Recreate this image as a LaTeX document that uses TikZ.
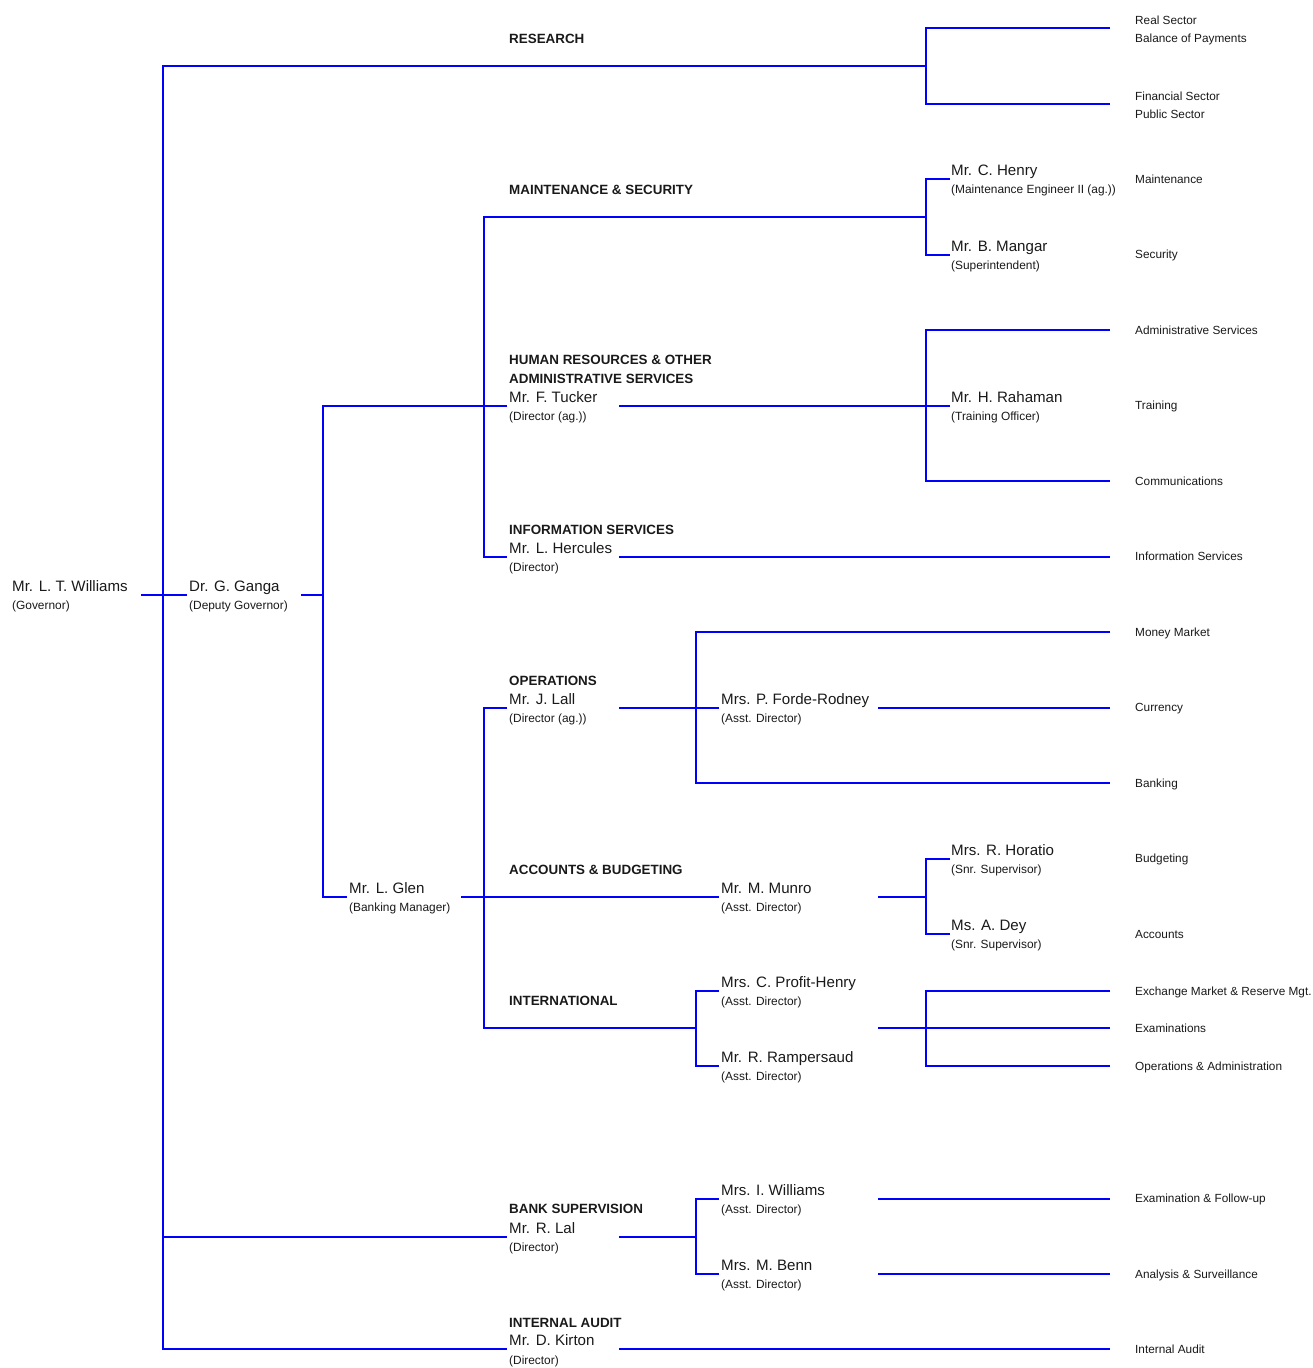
\documentclass[tikz,border=0pt]{standalone}
\usepackage{fontspec}
\setmainfont{Liberation Sans}
\definecolor{txt}{rgb}{0.1,0.1,0.1}
\definecolor{lineblue}{rgb}{0,0,1}
\begin{document}
\begin{tikzpicture}[x=1pt,y=-1pt,
 conn/.style={draw=lineblue,line width=2pt},
 nm/.style={anchor=base west,inner sep=0pt,text=txt,font=\fontsize{15.1}{18}\selectfont},
 rl/.style={anchor=base west,inner sep=0pt,text=txt,font=\fontsize{11.9}{14}\selectfont},
 hd/.style={anchor=base west,inner sep=0pt,text=txt,font=\bfseries\fontsize{13.4}{16}\selectfont},
 un/.style={anchor=base west,inner sep=0pt,text=txt,font=\fontsize{11.8}{14}\selectfont}]
\useasboundingbox (0,0) rectangle (1313,1368);

% ---------- people ----------
\node[nm] (williams) at (12,591) {Mr. L. T. Williams};
\node[rl] (williamsR) at (12,609) {(Governor)};
\node[nm] (ganga) at (189,591) {Dr. G. Ganga};
\node[rl] (gangaR) at (189,609) {(Deputy Governor)};
\node[nm] (glen) at (349,893) {Mr. L. Glen};
\node[rl] (glenR) at (349,911) {(Banking Manager)};

\node[hd] (research) at (509,43) {RESEARCH};
\node[hd] (maint) at (509,194) {MAINTENANCE \& SECURITY};
\node[hd] (hr1) at (509,364) {HUMAN RESOURCES \& OTHER};
\node[hd] (hr2) at (509,383) {ADMINISTRATIVE SERVICES};
\node[nm] (tucker) at (509,402.5) {Mr. F. Tucker};
\node[rl] (tuckerR) at (509,420.5) {(Director (ag.))};
\node[hd] (info) at (509,534) {INFORMATION SERVICES};
\node[nm] (hercules) at (509,553.5) {Mr. L. Hercules};
\node[rl] (herculesR) at (509,571.5) {(Director)};
\node[hd] (ops) at (509,685) {OPERATIONS};
\node[nm] (lall) at (509,704.5) {Mr. J. Lall};
\node[rl] (lallR) at (509,722.5) {(Director (ag.))};
\node[hd] (acc) at (509,874) {ACCOUNTS \& BUDGETING};
\node[hd] (intl) at (509,1005) {INTERNATIONAL};
\node[hd] (bsup) at (509,1213) {BANK SUPERVISION};
\node[nm] (lal) at (509,1233.5) {Mr. R. Lal};
\node[rl] (lalR) at (509,1251.5) {(Director)};
\node[hd] (iaud) at (509,1327) {INTERNAL AUDIT};
\node[nm] (kirton) at (509,1345.5) {Mr. D. Kirton};
\node[rl] (kirtonR) at (509,1364) {(Director)};

\node[nm] (forde) at (721,704.5) {Mrs. P. Forde-Rodney};
\node[rl] (fordeR) at (721,722.5) {(Asst. Director)};
\node[nm] (munro) at (721,893.5) {Mr. M. Munro};
\node[rl] (munroR) at (721,911.5) {(Asst. Director)};
\node[nm] (profit) at (721,987.5) {Mrs. C. Profit-Henry};
\node[rl] (profitR) at (721,1005.5) {(Asst. Director)};
\node[nm] (ramp) at (721,1062.5) {Mr. R. Rampersaud};
\node[rl] (rampR) at (721,1080.5) {(Asst. Director)};
\node[nm] (iwill) at (721,1195.5) {Mrs. I. Williams};
\node[rl] (iwillR) at (721,1213.5) {(Asst. Director)};
\node[nm] (benn) at (721,1270.5) {Mrs. M. Benn};
\node[rl] (bennR) at (721,1288.5) {(Asst. Director)};

\node[nm] (henry) at (951,175.5) {Mr. C. Henry};
\node[rl] (henryR) at (951,193.5) {(Maintenance Engineer II (ag.))};
\node[nm] (mangar) at (951,251.5) {Mr. B. Mangar};
\node[rl] (mangarR) at (951,269.5) {(Superintendent)};
\node[nm] (rahaman) at (951,402.5) {Mr. H. Rahaman};
\node[rl] (rahamanR) at (951,420.5) {(Training Officer)};
\node[nm] (horatio) at (951,855.5) {Mrs. R. Horatio};
\node[rl] (horatioR) at (951,873.5) {(Snr. Supervisor)};
\node[nm] (dey) at (951,930.5) {Ms. A. Dey};
\node[rl] (deyR) at (951,948.5) {(Snr. Supervisor)};

% ---------- units (right column) ----------
\node[un] (u1) at (1135,24.2) {Real Sector};
\node[un] (u2) at (1135,42.7) {Balance of Payments};
\node[un] (u3) at (1135,100.2) {Financial Sector};
\node[un] (u4) at (1135,118.2) {Public Sector};
\node[un] (u5) at (1135,183.2) {Maintenance};
\node[un] (u6) at (1135,258.2) {Security};
\node[un] (u7) at (1135,334.2) {Administrative Services};
\node[un] (u8) at (1135,409.2) {Training};
\node[un] (u9) at (1135,485.2) {Communications};
\node[un] (u10) at (1135,560.2) {Information Services};
\node[un] (u11) at (1135,636.2) {Money Market};
\node[un] (u12) at (1135,711.2) {Currency};
\node[un] (u13) at (1135,787.2) {Banking};
\node[un] (u14) at (1135,862.2) {Budgeting};
\node[un] (u15) at (1135,938.2) {Accounts};
\node[un] (u16) at (1135,995.2) {Exchange Market \& Reserve Mgt.};
\node[un] (u17) at (1135,1032.2) {Examinations};
\node[un] (u18) at (1135,1070.2) {Operations \& Administration};
\node[un] (u19) at (1135,1202.2) {Examination \& Follow-up};
\node[un] (u20) at (1135,1278.2) {Analysis \& Surveillance};
\node[un] (u21) at (1135,1353.2) {Internal Audit};

% ---------- connection points ----------
\coordinate (govL) at (141,595);   \coordinate (govR) at (187,595);
\coordinate (spTop) at (163,66);   \coordinate (spBot) at (163,1349);
\coordinate (spBS) at (163,1237);
\coordinate (resJ) at (926,66);
\coordinate (resT) at (926,28);    \coordinate (resB) at (926,104);
\coordinate (resTe) at (1110,28);  \coordinate (resBe) at (1110,104);
\coordinate (gangaE) at (301,595); \coordinate (gangaJ) at (323,595);
\coordinate (sp2T) at (323,406);   \coordinate (sp2B) at (323,897);
\coordinate (tuckerL) at (507,406); \coordinate (glenL) at (347,897);
\coordinate (sp3T) at (484,217);   \coordinate (sp3B) at (484,557);
\coordinate (maintJ) at (926,217);
\coordinate (herculesL) at (507,557);
\coordinate (mT) at (926,179);  \coordinate (mB) at (926,255);
\coordinate (mTe) at (950,179); \coordinate (mBe) at (950,255);
\coordinate (tuckerR) at (619,406); \coordinate (rahamanL) at (950,406);
\coordinate (hT) at (926,330);  \coordinate (hB) at (926,481);
\coordinate (hTe) at (1110,330); \coordinate (hBe) at (1110,481);
\coordinate (herculesR) at (619,557); \coordinate (infoE) at (1110,557);
\coordinate (glenR) at (461,897); \coordinate (munroL) at (719,897);
\coordinate (sp4T) at (484,708);  \coordinate (sp4B) at (484,1028);
\coordinate (lallL) at (507,708); \coordinate (intlJ) at (696,1028);
\coordinate (lallR) at (619,708); \coordinate (fordeL) at (719,708);
\coordinate (oT) at (696,632); \coordinate (oB) at (696,783);
\coordinate (oTe) at (1110,632); \coordinate (oBe) at (1110,783);
\coordinate (fordeR) at (878,708); \coordinate (curE) at (1110,708);
\coordinate (munroR) at (878,897); \coordinate (munroJ) at (926,897);
\coordinate (aT) at (926,859); \coordinate (aB) at (926,934);
\coordinate (aTe) at (950,859); \coordinate (aBe) at (950,934);
\coordinate (iT) at (696,991); \coordinate (iB) at (696,1066);
\coordinate (iTe) at (719,991); \coordinate (iBe) at (719,1066);
\coordinate (intlR) at (878,1028); \coordinate (examE) at (1110,1028);
\coordinate (xT) at (926,991); \coordinate (xB) at (926,1066);
\coordinate (xTe) at (1110,991); \coordinate (xBe) at (1110,1066);
\coordinate (lalL) at (507,1237); \coordinate (lalR) at (619,1237);
\coordinate (lalJ) at (696,1237);
\coordinate (bT) at (696,1199); \coordinate (bB) at (696,1274);
\coordinate (bTe) at (719,1199); \coordinate (bBe) at (719,1274);
\coordinate (iwR) at (878,1199); \coordinate (iwE) at (1110,1199);
\coordinate (bnR) at (878,1274); \coordinate (bnE) at (1110,1274);
\coordinate (kirtonL) at (507,1349); \coordinate (kirtonR) at (619,1349);
\coordinate (kirtonE) at (1110,1349);

% ---------- connectors ----------
\draw[conn] (govL) -- (govR);
\draw[conn] (resJ) -- (spTop) -- (spBot) -- (kirtonL);
\draw[conn] (spBS) -- (lalL);
\draw[conn] (resTe) -- (resT) -- (resB) -- (resBe);
\draw[conn] (gangaE) -- (gangaJ);
\draw[conn] (tuckerL) -- (sp2T) -- (sp2B) -- (glenL);
\draw[conn] (maintJ) -- (sp3T) -- (sp3B) -- (herculesL);
\draw[conn] (mTe) -- (mT) -- (mB) -- (mBe);
\draw[conn] (tuckerR) -- (rahamanL);
\draw[conn] (hTe) -- (hT) -- (hB) -- (hBe);
\draw[conn] (herculesR) -- (infoE);
\draw[conn] (glenR) -- (munroL);
\draw[conn] (lallL) -- (sp4T) -- (sp4B) -- (intlJ);
\draw[conn] (lallR) -- (fordeL);
\draw[conn] (oTe) -- (oT) -- (oB) -- (oBe);
\draw[conn] (fordeR) -- (curE);
\draw[conn] (munroR) -- (munroJ);
\draw[conn] (aTe) -- (aT) -- (aB) -- (aBe);
\draw[conn] (iTe) -- (iT) -- (iB) -- (iBe);
\draw[conn] (intlR) -- (examE);
\draw[conn] (xTe) -- (xT) -- (xB) -- (xBe);
\draw[conn] (lalR) -- (lalJ);
\draw[conn] (bTe) -- (bT) -- (bB) -- (bBe);
\draw[conn] (iwR) -- (iwE);
\draw[conn] (bnR) -- (bnE);
\draw[conn] (kirtonR) -- (kirtonE);
\end{tikzpicture}
\end{document}
